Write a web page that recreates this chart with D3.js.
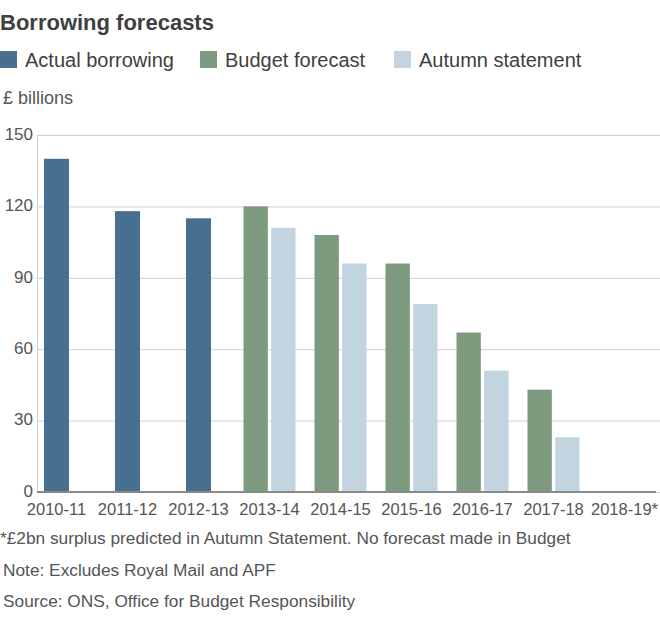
<!DOCTYPE html>
<html>
<head>
<meta charset="utf-8">
<script src="https://cdn.jsdelivr.net/npm/d3@7"></script>
<style>
  html, body { margin: 0; padding: 0; background: #fff; }
  svg text { font-family: "Liberation Sans", Arial, Helvetica, sans-serif; }
</style>
</head>
<body>
<svg id="chart" width="660" height="625"></svg>
<script>
const categories = ["2010-11","2011-12","2012-13","2013-14","2014-15","2015-16","2016-17","2017-18","2018-19*"];
const actualBorrowing = [140, 118, 115, null, null, null, null, null, null];
const budgetForecast  = [null, null, null, 120, 108, 96, 67, 43, null];
const autumnStatement = [null, null, null, 111, 96, 79, 51, 23, null];
const yTicks = [0, 30, 60, 90, 120, 150];

const seriesNames = ["Actual borrowing", "Budget forecast", "Autumn statement"];
const colors = {"Actual borrowing": "#466f90", "Budget forecast": "#7e9a7e", "Autumn statement": "#c2d4df"};

const svg = d3.select("#chart");
const plotLeft = 37, plotRight = 660, y0 = 492, yTop = 135;

const x = d3.scaleBand().domain(categories).range([21, 660]).padding(0);
const y = d3.scaleLinear().domain([0, 150]).range([y0, yTop]);
const sub = d3.scaleBand().domain(["budget", "autumn"]).range([-26, 26]).paddingInner(0.12);

// Title
svg.append("text").attr("x", 0).attr("y", 30).attr("font-size", 22).attr("font-weight", "bold")
  .attr("fill", "#404040").text("Borrowing forecasts");

// Legend
const legendX = [0, 200, 394];
seriesNames.forEach((name, i) => {
  svg.append("rect").attr("x", legendX[i]).attr("y", 51).attr("width", 17).attr("height", 17).attr("fill", colors[name]);
  svg.append("text").attr("x", legendX[i] + 25).attr("y", 67).attr("font-size", 20).attr("fill", "#404040").text(name);
});

// Unit label
svg.append("text").attr("x", 3).attr("y", 104).attr("font-size", 18).attr("fill", "#555").text("£ billions");

// Y axis with gridlines
const yAxis = d3.axisLeft(y).tickValues(yTicks).tickSize(-(plotRight - plotLeft)).tickPadding(4);
const gy = svg.append("g").attr("transform", `translate(${plotLeft},0)`).call(yAxis);
gy.select(".domain").attr("stroke", "#cfcfcf");
gy.selectAll(".tick line").attr("stroke", "#cfcfcf");
gy.selectAll(".tick text").attr("font-size", 17).attr("fill", "#555").attr("dy", "0.25em");

// Bars
const g = svg.append("g");
categories.forEach((c, i) => {
  const cx = x(c) + x.bandwidth() / 2;
  if (actualBorrowing[i] != null) {
    g.append("rect").attr("x", cx - 12.5).attr("width", 25)
      .attr("y", y(actualBorrowing[i])).attr("height", y(0) - y(actualBorrowing[i]))
      .attr("fill", colors["Actual borrowing"]);
  }
  if (budgetForecast[i] != null) {
    g.append("rect").attr("x", cx + sub("budget")).attr("width", sub.bandwidth())
      .attr("y", y(budgetForecast[i])).attr("height", y(0) - y(budgetForecast[i]))
      .attr("fill", colors["Budget forecast"]);
  }
  if (autumnStatement[i] != null) {
    g.append("rect").attr("x", cx + sub("autumn")).attr("width", sub.bandwidth())
      .attr("y", y(autumnStatement[i])).attr("height", y(0) - y(autumnStatement[i]))
      .attr("fill", colors["Autumn statement"]);
  }
});

// X axis
const xAxis = d3.axisBottom(x).tickSize(0).tickPadding(11.5);
const gx = svg.append("g").attr("transform", `translate(0,${y0})`).call(xAxis);
gx.select(".domain").remove();
gx.selectAll(".tick text").attr("font-size", 16.5).attr("fill", "#555");
svg.append("line").attr("x1", plotLeft).attr("x2", 656).attr("y1", y0).attr("y2", y0)
  .attr("stroke", "#8a8a8a").attr("stroke-width", 2);

// Footnotes
const notes = ["*£2bn surplus predicted in Autumn Statement. No forecast made in Budget",
               "Note: Excludes Royal Mail and APF",
               "Source: ONS, Office for Budget Responsibility"];
const noteY = [544, 576, 607];
const noteX = [0, 3, 3];
notes.forEach((t, i) => {
  svg.append("text").attr("x", noteX[i]).attr("y", noteY[i]).attr("font-size", 17.3).attr("fill", "#555").text(t);
});
</script>
</body>
</html>
